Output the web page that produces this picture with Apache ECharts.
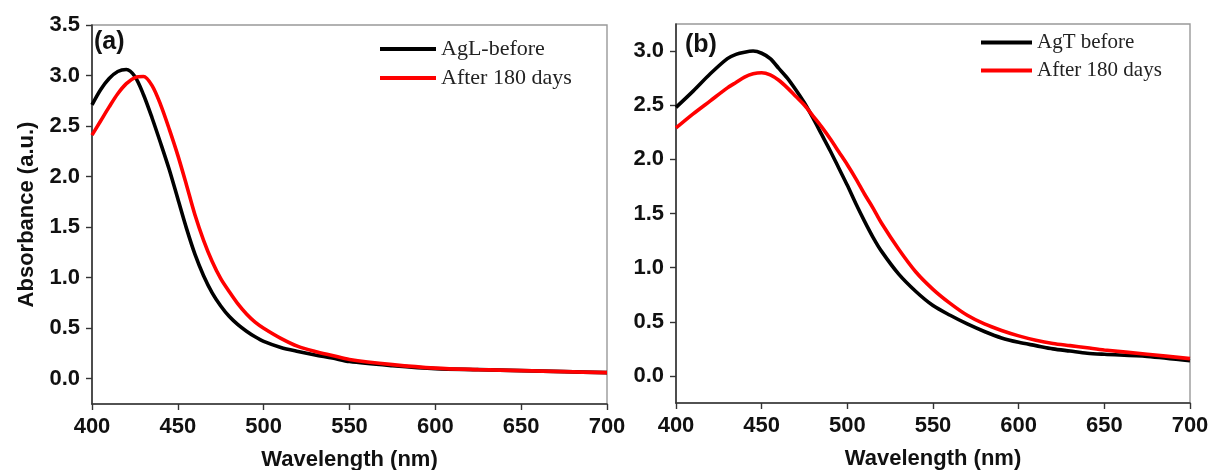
<!DOCTYPE html>
<html>
<head>
<meta charset="utf-8">
<script src="https://cdn.jsdelivr.net/npm/echarts@6/dist/echarts.min.js"></script>
<style>
html,body{margin:0;padding:0;background:#fff;}
#c{width:1210px;height:470px;}
</style>
</head>
<body>
<div id="c"></div>
<script>
// ---- Data ----
const wlA = [400,405,410,415,420,425,430,435,440,445,450,455,460,465,470,475,480,485,490,495,500,510,520,530,540,550,575,600,625,650,675,700];
const agLBefore = [2.71,2.86,2.97,3.04,3.06,2.99,2.81,2.58,2.33,2.07,1.78,1.49,1.23,1.02,0.85,0.72,0.615,0.535,0.47,0.415,0.37,0.31,0.27,0.235,0.205,0.17,0.13,0.10,0.09,0.08,0.07,0.06];
const agLAfter  = [2.41,2.55,2.69,2.82,2.92,2.98,2.99,2.90,2.71,2.47,2.21,1.92,1.62,1.37,1.16,0.99,0.86,0.74,0.64,0.56,0.50,0.40,0.32,0.27,0.23,0.19,0.14,0.105,0.09,0.08,0.07,0.06];

const wlB = [400,410,420,430,435,440,445,450,455,460,465,470,475,480,485,490,495,500,505,510,515,520,530,540,550,560,570,580,590,600,610,620,630,640,650,675,700];
const agTBefore = [2.48,2.63,2.79,2.93,2.97,2.99,3.00,2.98,2.93,2.84,2.75,2.64,2.52,2.38,2.23,2.08,1.92,1.76,1.59,1.43,1.28,1.15,0.94,0.78,0.65,0.56,0.48,0.41,0.35,0.31,0.28,0.25,0.23,0.21,0.20,0.18,0.14];
const agTAfter  = [2.29,2.42,2.54,2.66,2.71,2.76,2.79,2.80,2.78,2.73,2.66,2.58,2.50,2.40,2.30,2.19,2.07,1.95,1.82,1.68,1.55,1.41,1.17,0.96,0.80,0.67,0.56,0.48,0.42,0.37,0.33,0.30,0.28,0.26,0.24,0.20,0.16];

const xTicks = [400,450,500,550,600,650,700];
const yTicksA = [0,0.5,1.0,1.5,2.0,2.5,3.0,3.5];
const yTicksB = [0,0.5,1.0,1.5,2.0,2.5,3.0];

const namesA = ['AgL-before','After 180 days'];
const namesB = ['AgT before','After 180 days'];

function zip(x, y){ return x.map((v,i)=>[v,y[i]]); }

const SANS = "Arial, 'Liberation Sans', sans-serif";
const SERIF = "'Times New Roman', 'Liberation Serif', serif";

function xAxisCfg(gridIndex){
  return {
    type:'value', gridIndex, min:400, max:700, interval:50,
    name:'Wavelength (nm)', nameLocation:'middle', nameGap:45,
    nameTextStyle:{fontFamily:SANS, fontWeight:'bold', fontSize:22, color:'#111'},
    axisLine:{show:true, onZero:false, lineStyle:{color:'#333', width:1.6}},
    axisTick:{show:true, length:6, lineStyle:{color:'#333', width:1.4}, customValues:xTicks},
    axisLabel:{fontFamily:SANS, fontWeight:'bold', fontSize:22, color:'#111', margin:12, customValues:xTicks},
    splitLine:{show:false}
  };
}
function yAxisCfg(gridIndex, max, ticks, withName){
  const a = {
    type:'value', gridIndex, min:-0.25, max:max,
    axisLine:{show:true, onZero:false, lineStyle:{color:'#333', width:1.6}},
    axisTick:{show:true, length:6, lineStyle:{color:'#333', width:1.4}, customValues:ticks},
    axisLabel:{fontFamily:SANS, fontWeight:'bold', fontSize:22, color:'#111', margin:12,
      customValues:ticks, formatter:v=>v.toFixed(1)},
    splitLine:{show:false}
  };
  if(withName){
    a.name='Absorbance (a.u.)'; a.nameLocation='middle'; a.nameGap=54;
    a.nameTextStyle={fontFamily:SANS, fontWeight:'bold', fontSize:22, color:'#111'};
  }
  return a;
}

const chart = echarts.init(document.getElementById('c'), null, {renderer:'canvas'});
chart.setOption({
  backgroundColor:'#fff',
  animation:false,
  title:[
    {text:'(a)', left:94, top:30, padding:0, textStyle:{fontFamily:SANS, fontWeight:'bold', fontSize:25, color:'#111'}},
    {text:'(b)', left:685, top:33, padding:0, textStyle:{fontFamily:SANS, fontWeight:'bold', fontSize:25, color:'#111'}}
  ],
  grid:[
    {left:92, top:25, width:515, height:379, show:true, borderColor:'#999', borderWidth:1.4, backgroundColor:'transparent', containLabel:false, outerBoundsMode:'none'},
    {left:676, top:24, width:514, height:379, show:true, borderColor:'#999', borderWidth:1.4, backgroundColor:'transparent', containLabel:false, outerBoundsMode:'none'}
  ],
  legend:[
    {data:namesA, orient:'vertical', left:380, top:37, itemWidth:56, itemHeight:4, itemGap:5, icon:'rect',
     padding:0, selectedMode:false,
     textStyle:{fontFamily:SERIF, fontSize:22, color:'#222', lineHeight:24}},
    {data:namesB, orient:'vertical', left:981, top:31, itemWidth:51, itemHeight:4, itemGap:5, icon:'rect',
     padding:0, selectedMode:false,
     textStyle:{fontFamily:SERIF, fontSize:21, color:'#222', lineHeight:23}}
  ],
  xAxis:[xAxisCfg(0), xAxisCfg(1)],
  yAxis:[yAxisCfg(0, 3.5, yTicksA, true), yAxisCfg(1, 3.25, yTicksB, false)],
  series:[
    {name:namesA[0], type:'line', xAxisIndex:0, yAxisIndex:0, data:zip(wlA, agLBefore),
     showSymbol:false, smooth:0.3, color:'#000', lineStyle:{color:'#000', width:3.6}},
    {name:namesA[1], type:'line', xAxisIndex:0, yAxisIndex:0, data:zip(wlA, agLAfter),
     showSymbol:false, smooth:0.3, color:'#f00', lineStyle:{color:'#f00', width:3.6}},
    {name:namesB[0], type:'line', xAxisIndex:1, yAxisIndex:1, data:zip(wlB, agTBefore),
     showSymbol:false, smooth:0.3, color:'#000', lineStyle:{color:'#000', width:3.6}},
    {name:namesB[1], type:'line', xAxisIndex:1, yAxisIndex:1, data:zip(wlB, agTAfter),
     showSymbol:false, smooth:0.3, color:'#f00', lineStyle:{color:'#f00', width:3.6}}
  ]
});
</script>
</body>
</html>
